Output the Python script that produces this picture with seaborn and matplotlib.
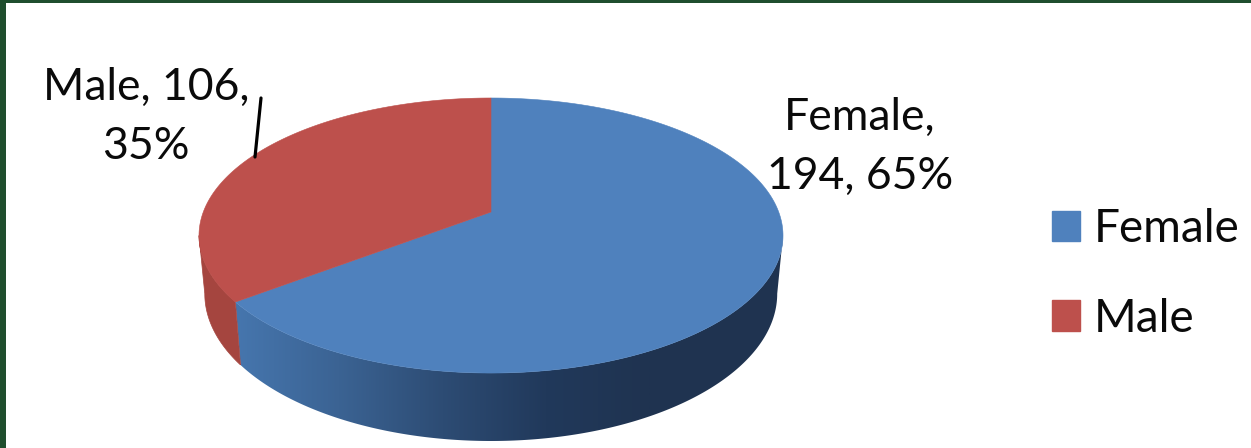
#!/usr/bin/env python3
# 3D looking pie of respondents by gender, projected by hand since matplotlib has no 3D pie
import numpy as np
import seaborn as sns
import matplotlib.pyplot as plt
from matplotlib.colors import ListedColormap
from matplotlib.patches import Patch, Polygon

categories = ["Female", "Male"]
counts = [194, 106]
percents = [65, 35]
label_lines = ["Female,\n194, 65%", "Male, 106,\n35%"]

top_colors = ["#4f81bd", "#bd504c"]
wall_blue = ["#4676ae", "#3b6393", "#2d4c74", "#21395b", "#1f3350"]
wall_red = "#a5453f"
frame_green = "#1f4e2e"

sns.set_theme(style="white")
plt.rcParams["font.family"] = ["Lato", "DejaVu Sans"]

W, H = 1251, 448
CX = 491
K = 0.171  # perspective strength
SIDE_T = np.arccos(-K)  # angle where the projected rim is widest


def project(t, a, s, y0):
    # t is clockwise angle from 12 o'clock, in radians
    u, v = np.sin(t), np.cos(t)
    d = 1 + K * v
    return CX + a * u / d, y0 - s * v / d


def top_edge(t):
    return project(t, 287.7, 133.5, 212)


def bottom_edge(t):
    return project(t, 282, 143, 268.5)


def wall_outline(t0, t1):
    t = np.linspace(t0, t1, 200)
    xa, ya = top_edge(t)
    xb, yb = bottom_edge(t[::-1])
    return np.column_stack([np.r_[xa, xb], np.r_[ya, yb]])


fig = plt.figure(figsize=(W / 100, H / 100), dpi=100, facecolor="white")
ax = fig.add_axes([0, 0, 1, 1])

# slice limits come from the counts
fracs = np.array(counts) / np.sum(counts)
edges = np.concatenate([[0], np.cumsum(fracs)]) * 2 * np.pi

# side wall: smooth gradient clipped to the blue part, flat red part
grad = ListedColormap(sns.blend_palette(wall_blue, 256))
img = ax.imshow(np.linspace(0, 1, 256)[None, :], cmap=grad, aspect="auto",
                extent=(235, 650, H, 0), zorder=2)
rest = ax.fill([650, 800, 800, 650], [0, 0, H, H], color=wall_blue[-1], lw=0, zorder=2)[0]
blue_wall = Polygon(wall_outline(SIDE_T, edges[1]), transform=ax.transData,
                    fc="none", ec="none")
ax.add_patch(blue_wall)
img.set_clip_path(blue_wall)
rest.set_clip_path(blue_wall)
ax.add_patch(Polygon(wall_outline(edges[1], 2 * np.pi - SIDE_T), fc=wall_red, ec=wall_red,
                     lw=0.5, zorder=2))

# top face
handles = []
for i, name in enumerate(categories):
    t = np.linspace(edges[i], edges[i + 1], 300)
    x, y = top_edge(t)
    ax.fill(np.r_[CX, x], np.r_[212, y], color=top_colors[i], lw=0.4, zorder=3)
    handles.append(Patch(color=top_colors[i], label=name))

# data labels
ax.text(860, 147, label_lines[0], ha="center", va="center", fontsize=32, linespacing=1.53,
        color="#0a0a0a", zorder=5)
ax.text(146, 117, label_lines[1], ha="center", va="center", fontsize=32, linespacing=1.53,
        color="#0a0a0a", zorder=5)
ax.plot([261, 255], [98, 157], color="black", lw=2.3, zorder=4)

ax.legend(handles=handles, loc="center left", bbox_to_anchor=(1052 / W, 1 - 274 / H),
          frameon=False, fontsize=33, handlelength=0.62, handleheight=0.65,
          handletextpad=0.28, labelspacing=1.04, borderpad=0, borderaxespad=0,
          labelcolor="#0a0a0a")

# dark slide background showing on top and left
ax.fill([0, W, W, 0], [0, 0, 3, 3], color=frame_green, lw=0, zorder=6)
ax.fill([0, 6, 6, 0], [0, 0, H, H], color=frame_green, lw=0, zorder=6)

ax.set_xlim(0, W)
ax.set_ylim(H, 0)
ax.axis("off")

fig.savefig("out.png", dpi=100)
